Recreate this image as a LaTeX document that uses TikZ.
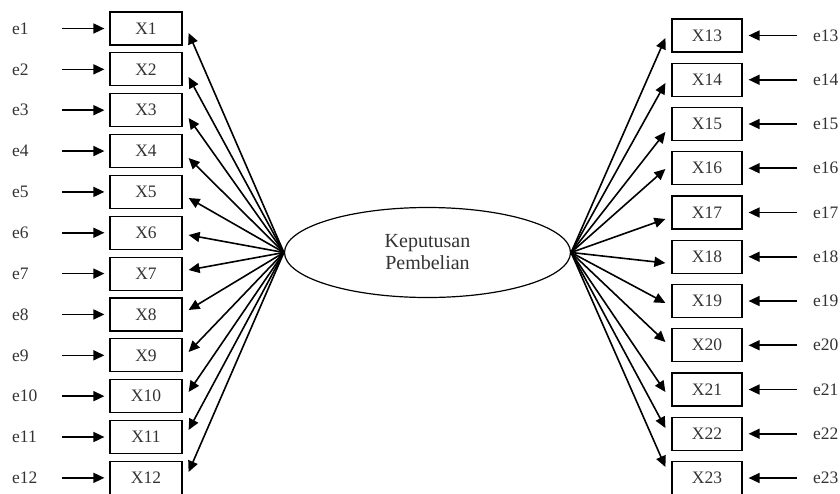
\documentclass[tikz,border=0pt]{standalone}
\usepackage{fontspec}
\setmainfont{Liberation Serif}
\usetikzlibrary{arrows.meta,shapes.geometric}
\begin{document}
\begin{tikzpicture}[x=1pt,y=-1pt,
  box/.style={draw, line width=1.2pt, minimum width=72pt, minimum height=33pt, inner sep=0pt,
    font=\fontsize{17.5}{20}\selectfont, text=black!80},
  lbl/.style={anchor=west, inner sep=0pt, font=\fontsize{17.5}{20}\selectfont, text=black!80},
  arr/.style={line width=1.6pt, -{Triangle[length=11pt,width=10pt]}},
]
\useasboundingbox (0,0) rectangle (840,493);
\node[draw, ellipse, line width=1.2pt, minimum width=286pt, minimum height=90pt, inner sep=0pt,
  align=center, font=\fontsize{20}{22}\selectfont, text=black!80] (K) at (427.5,252.5) {Keputusan\\Pembelian};
% left side
\foreach \i/\tip in {1/33, 2/77, 3/118, 4/158, 5/198, 6/235, 7/270, 8/310, 9/352, 10/392, 11/430, 12/472} {
  \pgfmathsetmacro\yc{28.5+(\i-1)*40.85}
  \node[box] (X\i) at (146,\yc) {X\i};
  \node[lbl] (e\i) at (12,\yc) {e\i};
  \coordinate (a\i) at (62,\yc);
  \draw[arr, shorten >=5pt] (a\i) -- (X\i.west);
  \draw[arr] (K.west) -- ([shift={(6,\tip-\yc)}]X\i.east);
}
% right side
\foreach \i/\tip in {13/38, 14/83, 15/132, 16/169, 17/219, 18/263, 19/303, 20/342, 21/392, 22/428, 23/467} {
  \pgfmathsetmacro\yc{35.5+(\i-13)*44.25}
  \node[box, minimum width=70pt] (X\i) at (707,\yc) {X\i};
  \node[lbl] (e\i) at (813,\yc) {e\i};
  \coordinate (a\i) at (797,\yc);
  \draw[arr, shorten >=6pt] (a\i) -- (X\i.east);
  \draw[arr] (K.east) -- ([shift={(-6,\tip-\yc)}]X\i.west);
}
\end{tikzpicture}
\end{document}
